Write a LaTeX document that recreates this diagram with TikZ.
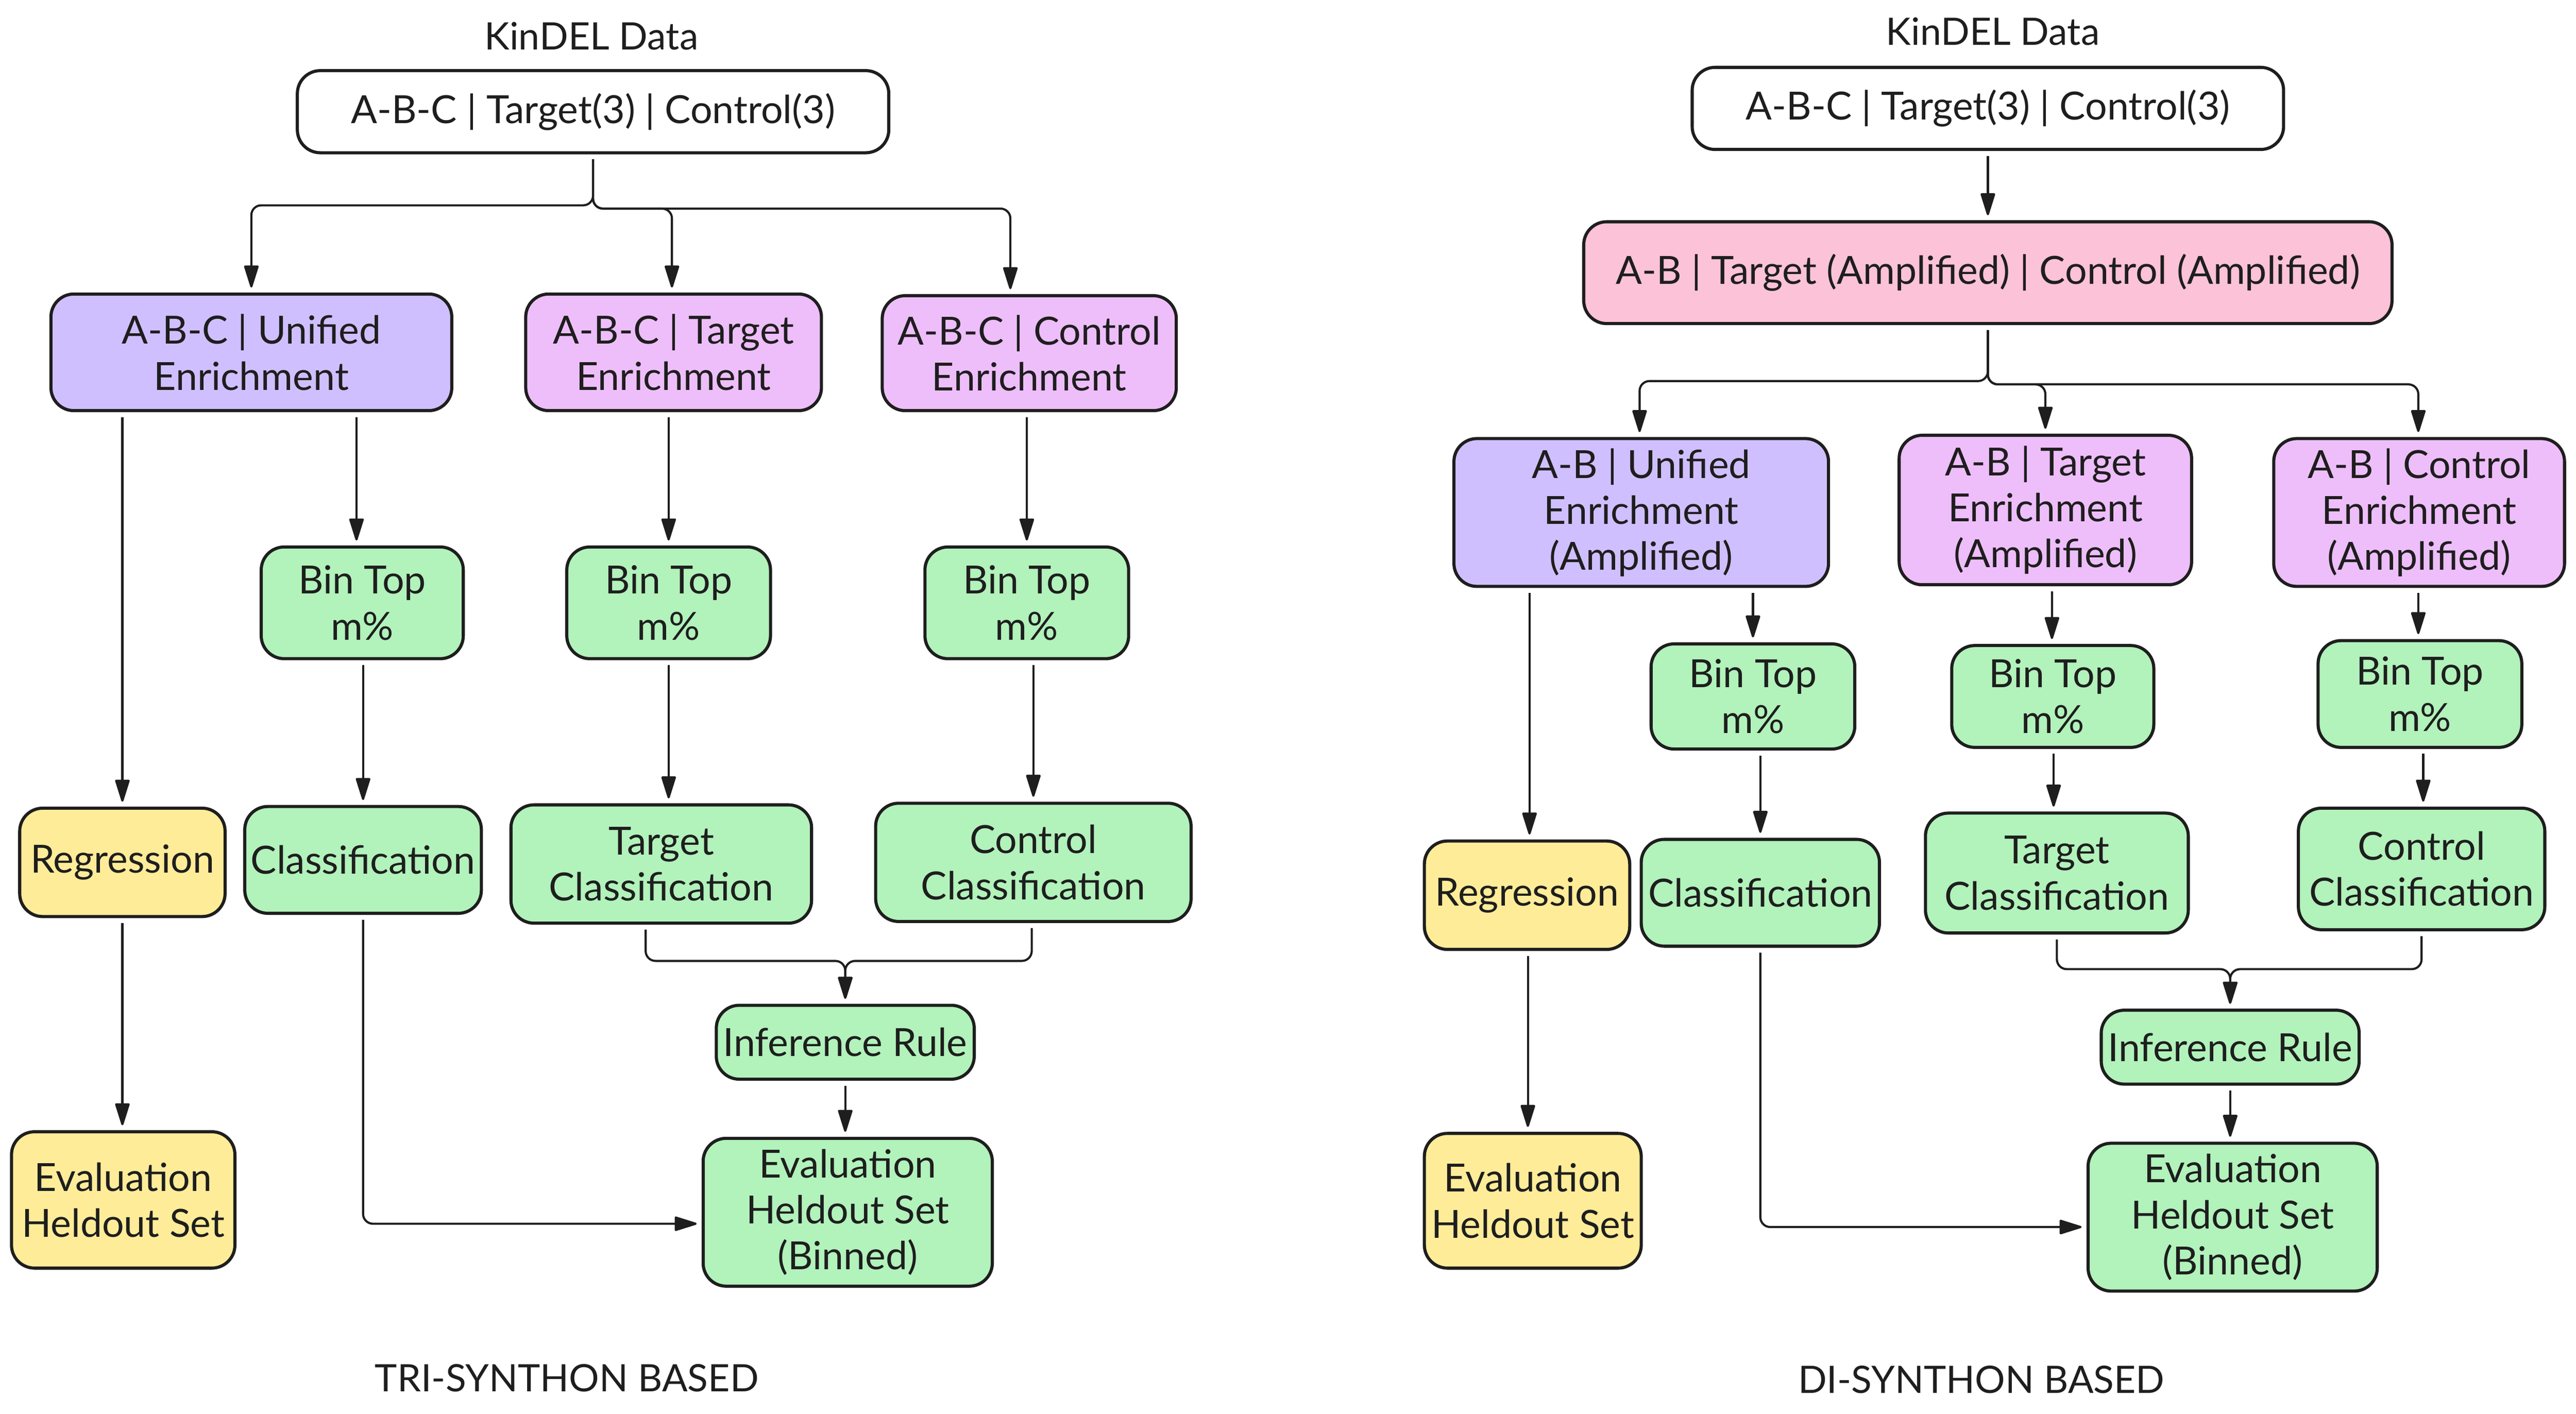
\documentclass[tikz,border=0pt]{standalone}
\usepackage{fontspec}
\setmainfont{Lato}
\usetikzlibrary{arrows.meta,calc}
\definecolor{strk}{HTML}{1E1E1E}
\definecolor{cviolet}{HTML}{D0BFFF}
\definecolor{cgrape}{HTML}{EEBEFA}
\definecolor{cgreen}{HTML}{B2F2BB}
\definecolor{cyellow}{HTML}{FFEC99}
\definecolor{cpink}{HTML}{FCC2D7}
\newcommand\mknode[7]{\node[box,fill=#2,minimum width=#5pt,minimum height=#6pt] (#1) at (#3,#4) {#7};}
\begin{document}
\begin{tikzpicture}[x=1pt,y=-1pt,
  box/.style={draw=strk,line width=1.9pt,rounded corners=14pt,align=center,inner sep=0pt,
    font=\fontsize{23.6}{28}\selectfont,text=strk},
  lbl/.style={inner sep=0pt,font=\fontsize{23}{28}\selectfont,text=strk},
  conn/.style={draw=strk,line width=1.3pt,rounded corners=6pt,
    -{Triangle[length=15pt,width=9pt,round]},shorten >=3pt,shorten <=3pt}]
\useasboundingbox[fill=white] (0,0) rectangle (1568,860.83);

% ---------------- left: tri-synthon ----------------
\node[lbl] (kd1) at (360,22) {KinDEL Data};
\mknode{top1}{white}{361}{68}{360}{50}{A-B-C | Target(3) | Control(3)}
\mknode{uni1}{cviolet}{153}{214.5}{244}{71}{A-B-C | Unified\\Enrichment}
\mknode{tgt1}{cgrape}{410}{214.5}{180}{71}{A-B-C | Target\\Enrichment}
\mknode{ctl1}{cgrape}{626.5}{215}{179}{70}{A-B-C | Control\\Enrichment}
\mknode{bina1}{cgreen}{220.5}{367}{123}{68}{Bin Top\\m\%}
\mknode{binb1}{cgreen}{407}{367}{124}{68}{Bin Top\\m\%}
\mknode{binc1}{cgreen}{625}{367}{124}{68}{Bin Top\\m\%}
\mknode{reg1}{cyellow}{74.5}{525}{125}{66}{Regression}
\mknode{cls1}{cgreen}{221}{523.5}{144}{65}{Classification}
\mknode{tcl1}{cgreen}{402.5}{526}{183}{72}{Target\\Classification}
\mknode{ccl1}{cgreen}{629}{525}{192}{72}{Control\\Classification}
\mknode{inf1}{cgreen}{514.5}{634.5}{157}{45}{Inference Rule}
\mknode{evy1}{cyellow}{75}{730.5}{136}{83}{Evaluation\\Heldout Set}
\mknode{evb1}{cgreen}{516}{738}{176}{90}{Evaluation\\Heldout Set\\(Binned)}
\node[lbl] (lab1) at (345,839) {TRI-SYNTHON BASED};

\draw[conn] (top1.south) |- (153,125) -- (uni1.north);
\draw[conn] (top1.south) |- (409,127) -- (uni1.north -| 409,0);
\draw[conn] (top1.south) |- (615,127) -- (ctl1.north -| 615,0);
\draw[conn] (uni1.south -| reg1.north) -- (reg1.north);
\draw[conn] (uni1.south -| 217,0) -- (bina1.north -| 217,0);
\draw[conn] (tgt1.south -| binb1.north) -- (binb1.north);
\draw[conn] (ctl1.south -| binc1.north) -- (binc1.north);
\draw[conn] (bina1.south -| cls1.north) -- (cls1.north);
\draw[conn] (binb1.south) -- (binb1.south |- tcl1.north);
\draw[conn] (binc1.south -| ccl1.north) -- (ccl1.north);
\draw[conn] (reg1.south) -- (reg1.south |- evy1.north);
\draw[conn] (cls1.south) |- ($(evb1.west)+(0,7)$);
\draw[conn] (tcl1.south -| 393,0) |- (514.5,585) -- (inf1.north);
\draw[conn] (ccl1.south -| 628,0) |- (514.5,585) -- (inf1.north);
\draw[conn] (inf1.south) -- (inf1.south |- evb1.north);

% ---------------- right: di-synthon ----------------
\node[lbl] (kd2) at (1213,19) {KinDEL Data};
\mknode{top2}{white}{1210}{66}{360}{50}{A-B-C | Target(3) | Control(3)}
\mknode{pink2}{cpink}{1210}{166}{492}{62}{A-B | Target (Amplified) | Control (Amplified)}
\mknode{uni2}{cviolet}{999}{312}{228}{90}{A-B | Unified\\Enrichment\\(Amplified)}
\mknode{tgt2}{cgrape}{1245}{310.5}{178}{91}{A-B | Target\\Enrichment\\(Amplified)}
\mknode{ctl2}{cgrape}{1472.5}{312}{177}{90}{A-B | Control\\Enrichment\\(Amplified)}
\mknode{bina2}{cgreen}{1067}{424}{124}{64}{Bin Top\\m\%}
\mknode{binb2}{cgreen}{1249.5}{424}{123}{62}{Bin Top\\m\%}
\mknode{binc2}{cgreen}{1473}{422.5}{124}{65}{Bin Top\\m\%}
\mknode{reg2}{cyellow}{929.5}{545}{125}{66}{Regression}
\mknode{cls2}{cgreen}{1071.5}{543.5}{145}{65}{Classification}
\mknode{tcl2}{cgreen}{1252}{531.5}{160}{73}{Target\\Classification}
\mknode{ccl2}{cgreen}{1474}{529}{150}{74}{Control\\Classification}
\mknode{inf2}{cgreen}{1357.5}{637.5}{157}{45}{Inference Rule}
\mknode{evy2}{cyellow}{933}{731}{132}{82}{Evaluation\\Heldout Set}
\mknode{evb2}{cgreen}{1359}{741}{176}{90}{Evaluation\\Heldout Set\\(Binned)}
\node[lbl] (lab2) at (1206,840) {DI-SYNTHON BASED};

\draw[conn] (top2.south) -- (pink2.north);
\draw[conn] (pink2.south) |- (998,232) -- (uni2.north -| 998,0);
\draw[conn] (pink2.south) |- (1245,234) -- (tgt2.north);
\draw[conn] (pink2.south) |- (1472,234) -- (ctl2.north -| 1472,0);
\draw[conn] (uni2.south -| 931,0) -- (reg2.north -| 931,0);
\draw[conn] (uni2.south -| bina2.north) -- (bina2.north);
\draw[conn] (tgt2.south -| 1249,0) -- (binb2.north -| 1249,0);
\draw[conn] (ctl2.south -| 1472,0) -- (binc2.north -| 1472,0);
\draw[conn] (bina2.south -| cls2.north) -- (cls2.north);
\draw[conn] (binb2.south -| 1250,0) -- (tcl2.north -| 1250,0);
\draw[conn] (binc2.south -| 1475,0) -- (ccl2.north -| 1475,0);
\draw[conn] (reg2.south -| 930,0) -- (evy2.north -| 930,0);
\draw[conn] (cls2.south) |- ($(evb2.west)+(0,6)$);
\draw[conn] (tcl2.south) |- (1357.5,590) -- (inf2.north);
\draw[conn] (ccl2.south) |- (1357.5,590) -- (inf2.north);
\draw[conn] (inf2.south) -- (inf2.south |- evb2.north);
\end{tikzpicture}
\end{document}
